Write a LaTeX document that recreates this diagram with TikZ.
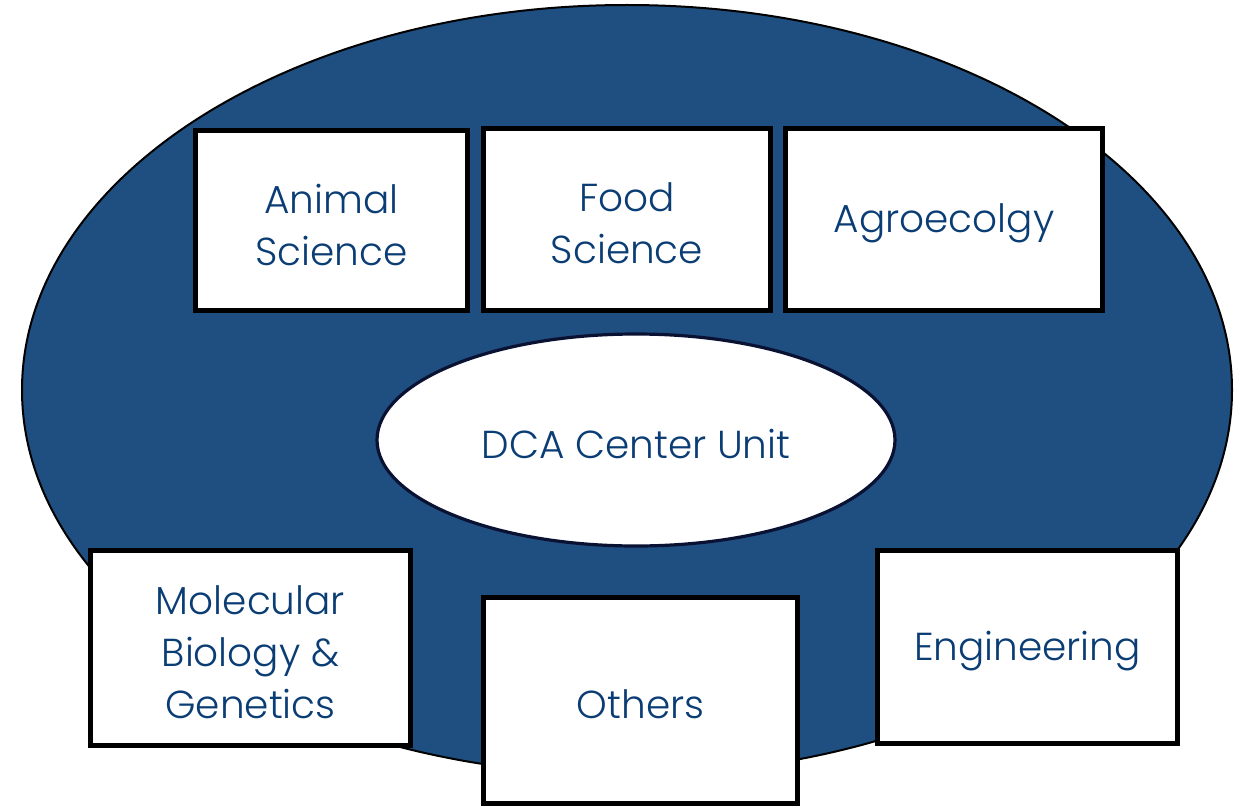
\documentclass[tikz,border=0pt]{standalone}
\usepackage{fontspec}
\setmainfont{Poppins}[UprightFont={* Light}]
\usetikzlibrary{shapes.geometric}
\definecolor{blobfill}{HTML}{1F4F80}
\definecolor{txtblue}{HTML}{0B3D75}
\definecolor{navyline}{HTML}{0A1233}
\begin{document}
\begin{tikzpicture}[x=0.5pt,y=-0.5pt,
  boxtext/.style={text=txtblue,align=center,font=\fontsize{19.5}{26}\selectfont,
    inner sep=0pt,yshift=-2pt},
  areabox/.style={draw=black,line width=2.5pt,fill=white,inner sep=0pt,
    label={[boxtext]center:#1}},
  bigblob/.style={ellipse,draw=black,line width=1pt,fill=blobfill,inner sep=0pt},
  centerunit/.style={ellipse,draw=navyline,line width=1.6pt,fill=white,inner sep=0pt,
    label={[boxtext]center:#1}}]
\useasboundingbox (0,0) rectangle (1242,808);
\node[bigblob,minimum width=605pt,minimum height=385pt] (blob) at (627,390) {};
\node[centerunit={DCA Center Unit},minimum width=259pt,minimum height=106pt] (dca) at (636,440) {};
\node[areabox={Animal\\Science},minimum width=136pt,minimum height=90pt] (animal) at (331.5,220.5) {};
\node[areabox={Food\\Science},minimum width=143.5pt,minimum height=91pt] (food) at (627,219.5) {};
\node[areabox={Agroecolgy},minimum width=158.5pt,minimum height=91pt] (agro) at (944,219.5) {};
\node[areabox={Molecular\\Biology \&\\Genetics},minimum width=160pt,minimum height=97.5pt] (molbio) at (250.5,648) {};
\node[areabox={Others},minimum width=157pt,minimum height=103pt] (others) at (640.5,700.5) {};
\node[areabox={Engineering},minimum width=150pt,minimum height=96.5pt] (eng) at (1027.5,647) {};
\end{tikzpicture}
\end{document}
